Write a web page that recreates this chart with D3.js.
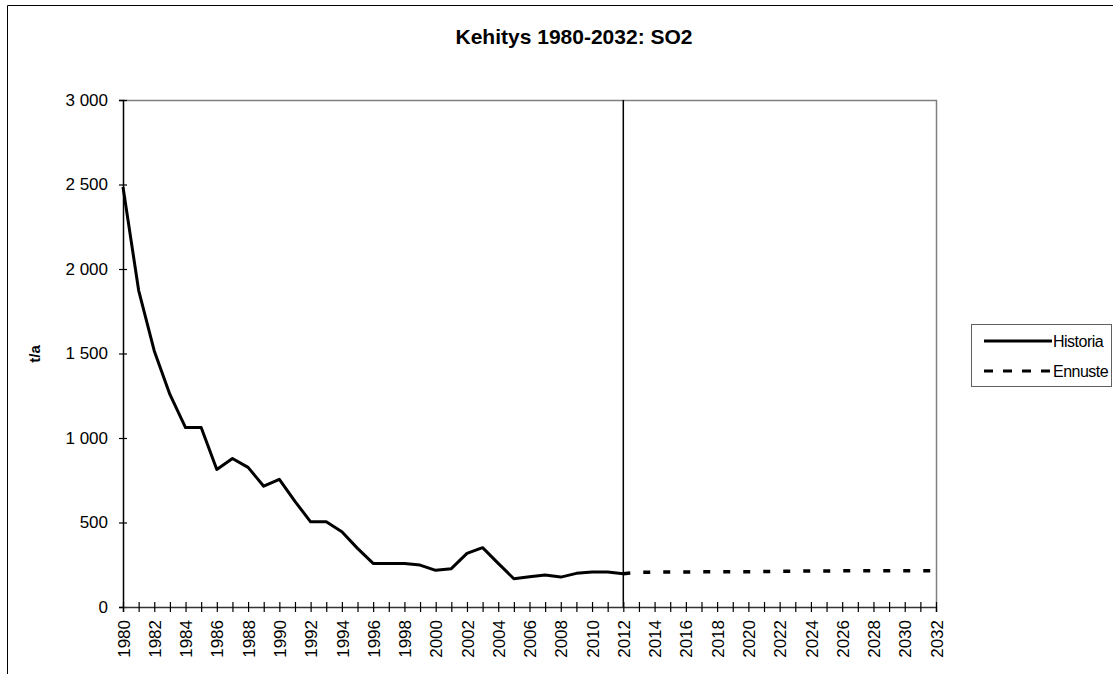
<!DOCTYPE html>
<html>
<head>
<meta charset="utf-8">
<script src="https://cdn.jsdelivr.net/npm/d3@7"></script>
<style>
  body { margin: 0; background: #fff; }
  svg { display: block; font-family: "Liberation Sans", Arial, sans-serif; }
</style>
</head>
<body>
<svg width="1115" height="674"></svg>
<script>
// data
var histYears = [1980, 1981, 1982, 1983, 1984, 1985, 1986, 1987, 1988, 1989, 1990,
  1991, 1992, 1993, 1994, 1995, 1996, 1997, 1998, 1999, 2000, 2001, 2002, 2003,
  2004, 2005, 2006, 2007, 2008, 2009, 2010, 2011, 2012];
var historia = [2485, 1874, 1515, 1258, 1062, 1062, 814, 879, 826, 715, 755,
  625, 504, 504, 445, 347, 258, 258, 258, 248, 217, 227, 317, 351,
  258, 167, 179, 189, 177, 199, 207, 207, 197];
var forecastYears = [2012, 2013, 2014, 2015, 2016, 2017, 2018, 2019, 2020, 2021,
  2022, 2023, 2024, 2025, 2026, 2027, 2028, 2029, 2030, 2031, 2032];
var ennuste = [197, 205, 206, 207, 207, 208, 208, 209, 209, 210,
  211, 212, 213, 213, 214, 214, 214, 215, 215, 215, 215];
var yTicks = [0, 500, 1000, 1500, 2000, 2500, 3000];
var seriesNames = ["Historia", "Ennuste"];
var title = "Kehitys 1980-2032: SO2";
var yTitle = "t/a";

var svg = d3.select("svg");
var margin = {top: 100, left: 123, right: 179, bottom: 67};
var width = 1115 - margin.left - margin.right,
    height = 674 - margin.top - margin.bottom;

var fi = d3.formatLocale({decimal: ",", thousands: " ", grouping: [3], currency: ["", ""]});
var fmt = fi.format(",");

var allYears = d3.range(1980, 2033);
var x = d3.scaleLinear().domain([1980, 2032]).range([0, width]);
var y = d3.scaleLinear().domain([0, 3000]).range([height, 0]);

// outer chart-area frame (only top and left visible)
svg.append("line").attr("x1", 7.5).attr("x2", 1113).attr("y1", 5.5).attr("y2", 5.5)
  .attr("stroke", "#000").attr("stroke-width", 1);
svg.append("line").attr("x1", 7.5).attr("x2", 7.5).attr("y1", 5.5).attr("y2", 674)
  .attr("stroke", "#000").attr("stroke-width", 1);

svg.append("text")
  .attr("x", 574).attr("y", 44)
  .attr("text-anchor", "middle")
  .style("font-size", "21px").style("font-weight", "bold")
  .text(title);

var g = svg.append("g").attr("transform", "translate(" + margin.left + "," + margin.top + ")");

// plot-area border (grey, top and right)
g.append("path")
  .attr("d", "M0,0.5H" + (width + 0.5) + "V" + height)
  .attr("fill", "none").attr("stroke", "#808080").attr("stroke-width", 1.5);

// split line at 2012
g.append("line")
  .attr("x1", x(2012)).attr("x2", x(2012)).attr("y1", 0).attr("y2", height)
  .attr("stroke", "#000").attr("stroke-width", 1.5);

var yAxis = g.append("g")
  .call(d3.axisLeft(y).tickValues(yTicks).tickFormat(fmt).tickSize(4).tickPadding(11));
yAxis.select(".domain").attr("stroke", "#000").attr("stroke-width", 1.5);
yAxis.selectAll(".tick line").attr("x1", 4).attr("x2", -4).attr("stroke-width", 1.2);
yAxis.selectAll("text").style("font-size", "17px").attr("fill", "#000");

var xAxis = g.append("g")
  .attr("transform", "translate(0," + height + ")")
  .call(d3.axisBottom(x).tickValues(allYears)
    .tickFormat(function(d) { return d % 2 === 0 ? d : ""; })
    .tickSize(5));
xAxis.select(".domain").attr("stroke", "#333").attr("stroke-width", 1.5);
xAxis.selectAll(".tick line").attr("y1", -5).attr("y2", 5).attr("stroke-width", 1.2);
xAxis.selectAll("text")
  .style("font-size", "17px").attr("fill", "#000")
  .attr("transform", "rotate(-90)")
  .attr("text-anchor", "end")
  .attr("x", -13).attr("y", 0).attr("dy", "0.36em");

svg.append("text")
  .attr("transform", "translate(40,354) rotate(-90)")
  .attr("text-anchor", "middle")
  .style("font-size", "15px").style("font-weight", "bold")
  .text(yTitle);

var line = d3.line()
  .x(function(d) { return x(d[0]); })
  .y(function(d) { return y(d[1]); });

g.append("path")
  .datum(d3.zip(histYears, historia))
  .attr("fill", "none").attr("stroke", "#000").attr("stroke-width", 3)
  .attr("stroke-linejoin", "round")
  .attr("d", line);

g.append("path")
  .datum(d3.zip(forecastYears, ennuste))
  .attr("fill", "none").attr("stroke", "#000").attr("stroke-width", 3.5)
  .attr("stroke-dasharray", "7,13")
  .attr("d", line);

// legend
var lg = svg.append("g").attr("transform", "translate(971,324)");
lg.append("rect")
  .attr("x", 0.5).attr("y", 0.5).attr("width", 140).attr("height", 62)
  .attr("fill", "#fff").attr("stroke", "#606060").attr("stroke-width", 1);
seriesNames.forEach(function(name, i) {
  var yy = 17 + i * 30;
  lg.append("line")
    .attr("x1", 13).attr("x2", 81).attr("y1", yy).attr("y2", yy)
    .attr("stroke", "#000").attr("stroke-width", 3)
    .attr("stroke-dasharray", i === 1 ? "9,10" : null);
  lg.append("text")
    .attr("x", 82).attr("y", yy).attr("dy", "0.36em")
    .style("font-size", "16px").style("letter-spacing", "-0.5px")
    .text(name);
});
</script>
</body>
</html>
